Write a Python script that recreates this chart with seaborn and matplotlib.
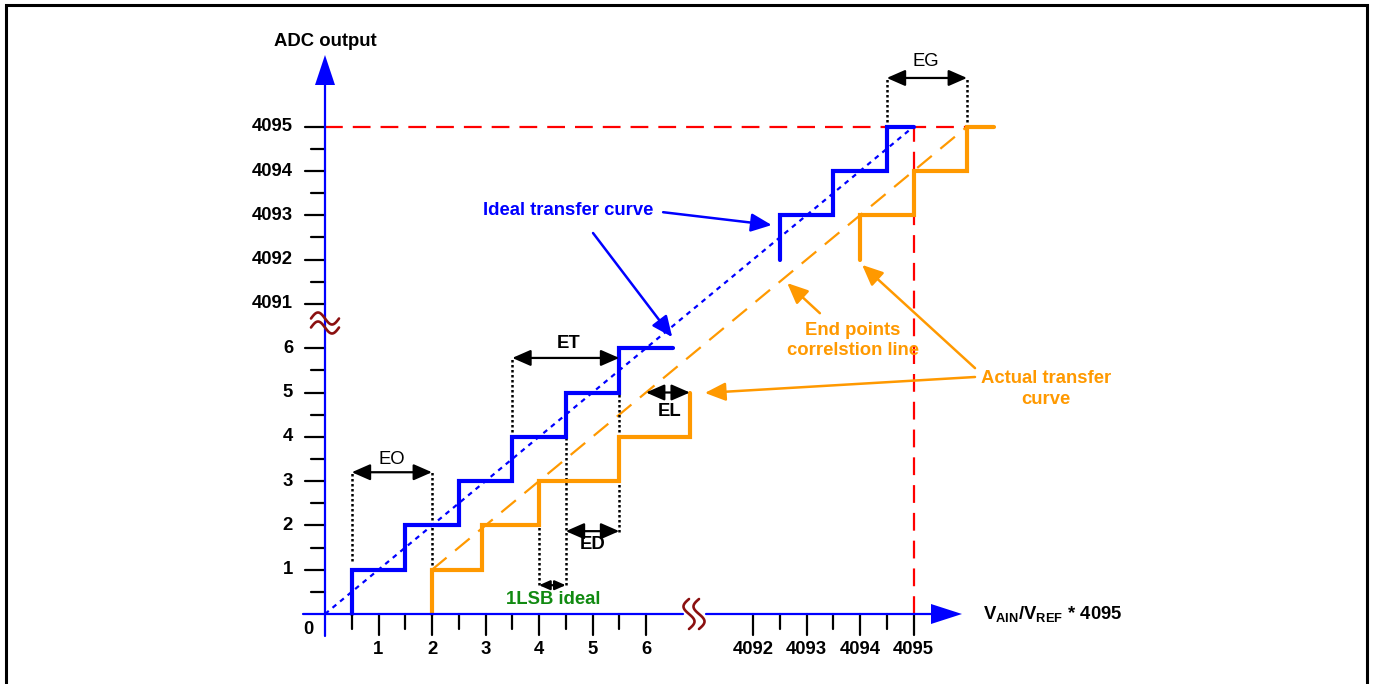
import matplotlib
matplotlib.use("Agg")
import matplotlib.pyplot as plt
import numpy as np
import seaborn as sns

# ---------------- data ----------------
# ideal transfer curve: output codes and the input values where the code steps up
ideal_lo_codes = [0, 1, 2, 3, 4, 5, 6]
ideal_lo_trans = [0.5, 1.5, 2.5, 3.5, 4.5, 5.5]
ideal_lo_end = 6.5
ideal_hi_codes = [4092, 4093, 4094, 4095]
ideal_hi_trans = [4092.5, 4093.5, 4094.5]
ideal_hi_end = 4095

# actual transfer curve
actual_lo_codes = [0, 1, 2, 3, 4, 5]
actual_lo_trans = [2, 2.93, 4, 5.5, 6.82]
actual_lo_end = 6.82
actual_hi_codes = [4092, 4093, 4094, 4095]
actual_hi_trans = [4094, 4095, 4096]
actual_hi_end = 4096.5

# straight reference lines (input, output)
ideal_line_x = [0, 4095]
ideal_line_y = [0, 4095]
corr_line_x = [2, 4096]
corr_line_y = [1, 4095]
full_scale = 4095

# axis ticks
x_ticks_lo = [0.5, 1, 1.5, 2, 2.5, 3, 3.5, 4, 4.5, 5, 5.5, 6]
x_ticks_hi = [4092, 4092.5, 4093, 4093.5, 4094, 4094.5, 4095]
y_ticks_lo = [0.5, 1, 1.5, 2, 2.5, 3, 3.5, 4, 4.5, 5, 5.5, 6]
y_ticks_hi = [4091, 4091.5, 4092, 4092.5, 4093, 4093.5, 4094, 4094.5, 4095]

BREAK_OFFSET = 4084  # codes above the axis break are drawn shifted by this amount


def fold(v):
    v = np.asarray(v, dtype=float)
    return np.where(v > 1000, v - BREAK_OFFSET, v)


def stair(codes, trans, end):
    xs, ys = [], []
    for i, t in enumerate(trans):
        xs += [t, t]
        ys += [codes[i], codes[i + 1]]
    xs.append(end)
    ys.append(codes[-1])
    return fold(xs), fold(ys)


# ---------------- style ----------------
sns.set_theme(style="white")
plt.rcParams["font.family"] = ["Liberation Sans", "DejaVu Sans"]
plt.rcParams["text.color"] = "black"
plt.rcParams["mathtext.fontset"] = "custom"
plt.rcParams["mathtext.rm"] = "Liberation Sans"
plt.rcParams["mathtext.bf"] = "Liberation Sans:bold"
plt.rcParams["mathtext.it"] = "Liberation Sans:italic"

BLUE = "#0000FF"
ORANGE = "#FF9900"
RED = "#FF0000"
GREEN = "#118A11"
DARKRED = "#8B1010"
FS = 13.3

W, H = 1376, 684
OX, OY = 325, 614          # pixel position of origin
SU, SW = 53.5, 44.3        # pixels per unit

fig = plt.figure(figsize=(W / 100, H / 100), dpi=100)
ax = fig.add_axes([0, 0, 1, 1])
ax.set_xlim(-OX / SU, (W - OX) / SU)
ax.set_ylim((OY - H) / SW, OY / SW)
ax.axis("off")

# frame of the figure
ax.plot([6 / W, 6 / W, 1367 / W, 1367 / W], [-0.05, 1 - 5 / H, 1 - 5 / H, -0.05],
        transform=ax.transAxes, color="black", lw=2.2, clip_on=False,
        solid_joinstyle="miter")

# ---------------- reference lines ----------------
ax.plot(fold([0, 4096]), fold([full_scale, full_scale]), color=RED, lw=1.6,
        ls=(0, (8, 4.5)), zorder=2)
ax.plot(fold([full_scale, full_scale]), fold([0, full_scale]), color=RED, lw=1.6,
        ls=(0, (8, 4.5)), zorder=2)
ax.plot(fold(ideal_line_x), fold(ideal_line_y), color=BLUE, lw=1.6,
        ls=(0, (2.2, 2.2)), zorder=3)
ax.plot(fold(corr_line_x), fold(corr_line_y), color=ORANGE, lw=1.6,
        ls=(0, (8.5, 5)), zorder=3)

# ---------------- staircases ----------------
for codes, trans, end, col in [
    (ideal_lo_codes, ideal_lo_trans, ideal_lo_end, BLUE),
    (ideal_hi_codes, ideal_hi_trans, ideal_hi_end, BLUE),
    (actual_lo_codes, actual_lo_trans, actual_lo_end, ORANGE),
    (actual_hi_codes, actual_hi_trans, actual_hi_end, ORANGE),
]:
    sx, sy = stair(codes, trans, end)
    sns.lineplot(x=sx, y=sy, sort=False, estimator=None, ax=ax, color=col,
                 lw=3.0, solid_capstyle="round", solid_joinstyle="miter",
                 zorder=4)

# ---------------- axes ----------------
ax_lw = 1.6
# y axis
ax.plot([0, 0], [-22 / SW, (OY - 85) / SW], color=BLUE, lw=ax_lw, zorder=5)
ax.fill([-10 / SU, 10 / SU, 0], [(OY - 85) / SW, (OY - 85) / SW, (OY - 55) / SW],
        color=BLUE, lw=0, zorder=5)
# x axis (with a break)
ax.plot([-22 / SU, (683 - OX) / SU], [0, 0], color=BLUE, lw=ax_lw, zorder=5)
ax.plot([(706 - OX) / SU, (931 - OX) / SU], [0, 0], color=BLUE, lw=ax_lw, zorder=5)
ax.fill([(931 - OX) / SU, (931 - OX) / SU, (962 - OX) / SU],
        [-10 / SW, 10 / SW, 0], color=BLUE, lw=0, zorder=5)

# ticks
for t in list(x_ticks_lo) + list(x_ticks_hi):
    major = float(t).is_integer()
    u = float(fold(t))
    ax.plot([u, u], [0, -(21 if major else 15) / SW], color="black", lw=1.6, zorder=4)
    if major:
        ax.text(u, -36 / SW, f"{int(t)}", ha="center", va="center",
                fontsize=FS, fontweight="bold", color="black")
for t in list(y_ticks_lo) + list(y_ticks_hi):
    major = float(t).is_integer()
    w = float(fold(t))
    ax.plot([-(20 if major else 14) / SU, 0], [w, w], color="black", lw=1.6, zorder=4)
    if major:
        ax.text(-32 / SU, w, f"{int(t)}", ha="right", va="center",
                fontsize=FS, fontweight="bold", color="black")
ax.text(-17 / SU, -16 / SW, "0", ha="center", va="center", fontsize=FS,
        fontweight="bold", color="black")

# axis titles
ax.text(0, (OY - 41) / SW, "ADC output", ha="center", va="center", fontsize=FS,
        fontweight="bold", color="black")
ax.text((983 - OX) / SU, 0, r"$\mathbf{V_{AIN}/V_{REF}}$ * 4095", ha="left",
        va="center", fontsize=FS, fontweight="bold", color="black")

# break symbols
tt = np.linspace(0, 1, 60)
# on y axis: two sideways S curves
cy = (OY - 323) / SW
for dy in (-4.5, 4.5):
    ax.plot((tt - 0.5) * 28 / SU, cy + (dy + 6 * np.sin(2 * np.pi * tt)) / SW,
            color=DARKRED, lw=1.9, zorder=6)
# on x axis: two upright S curves
cx = (694 - OX) / SU
for dx in (-5, 5):
    ax.plot(cx + (dx + 5.5 * np.sin(2 * np.pi * tt)) / SU, (tt - 0.5) * 30 / SW,
            color=DARKRED, lw=1.9, zorder=6)

# ---------------- dimension annotations ----------------
dot = dict(color="black", lw=1.8, ls=(0, (1, 1)), zorder=3)


def dim(x0, x1, w, ms=14, hl=0.8, hw=0.35):
    ax.annotate("", xy=(x1, w), xytext=(x0, w),
                arrowprops=dict(arrowstyle=f"<|-|>,head_length={hl},head_width={hw}",
                                color="black", lw=1.6, mutation_scale=ms,
                                shrinkA=0, shrinkB=0), zorder=5)


# EO
ax.plot([0.5, 0.5], [1.2, 3.2], **dot)
ax.plot([2, 2], [1, 3.2], **dot)
dim(0.5, 2, 3.2)
ax.text(1.25, 3.48, "EO", ha="center", va="center", fontsize=FS, color="black")
# ET
ax.plot([3.5, 3.5], [4, 5.78], **dot)
ax.plot([5.5, 5.5], [1.85, 5.78], **dot)
dim(3.5, 5.5, 5.78)
ax.text(4.55, 6.1, "ET", ha="center", va="center", fontsize=FS, fontweight="bold",
        color="black")
# ED
ax.plot([4.5, 4.5], [0.65, 4], **dot)
dim(4.5, 5.5, 1.87)
ax.text(5.0, 1.56, "ED", ha="center", va="center", fontsize=FS, fontweight="bold",
        color="black")
# 1LSB
ax.plot([4, 4], [0.65, 2], **dot)
dim(4, 4.5, 0.65, ms=8)
ax.text(4.27, 0.32, "1LSB ideal", ha="center", va="center", fontsize=FS,
        fontweight="bold", color=GREEN)
# EL
dim(6.0, 6.82, 5.0)
ax.text(6.45, 4.56, "EL", ha="center", va="center", fontsize=FS, fontweight="bold",
        color="black")
# EG
ax.plot([10.5, 10.5], [11, 12.1], **dot)
ax.plot([12, 12], [11, 12.1], **dot)
dim(10.5, 12, 12.1)
ax.text(11.23, 12.48, "EG", ha="center", va="center", fontsize=FS, color="black")

# ---------------- call-out labels ----------------


def callout(p0, p1, col):
    ax.annotate("", xy=p1, xytext=p0,
                arrowprops=dict(arrowstyle="-|>,head_length=0.9,head_width=0.4",
                                color=col, lw=1.8, mutation_scale=14,
                                shrinkA=0, shrinkB=0), zorder=6)


ax.text(4.55, 9.1, "Ideal transfer curve", ha="center", va="center", fontsize=FS,
        fontweight="bold", color=BLUE)
callout((6.32, 9.07), (8.35, 8.78), BLUE)
callout((5.01, 8.6), (6.49, 6.25), BLUE)

ax.text(9.87, 6.18, "End points\ncorrelstion line", ha="center", va="center",
        fontsize=FS, fontweight="bold", color=ORANGE, linespacing=1.25)
callout((9.25, 6.79), (8.64, 7.47), ORANGE)

ax.text(13.48, 5.08, "Actual transfer\ncurve", ha="center", va="center",
        fontsize=FS, fontweight="bold", color=ORANGE, linespacing=1.25)
callout((12.15, 5.55), (10.04, 7.88), ORANGE)
callout((12.15, 5.35), (7.1, 4.99), ORANGE)

fig.savefig("out.png", dpi=100)
